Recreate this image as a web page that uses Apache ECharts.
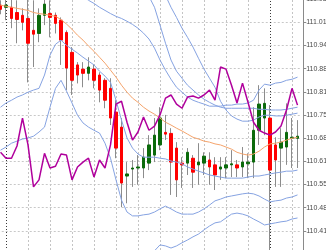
<!DOCTYPE html>
<html lang="en">
<head>
<meta charset="utf-8">
<script src="https://cdn.jsdelivr.net/npm/echarts@6/dist/echarts.min.js"></script>
</head>
<body style="margin:0;background:#fff">
<div id="chart" style="width:326px;height:250px"></div>
<script>
// 30-minute bars, two day separators at 00:00
var times = ['05 23:30',
  '06 00:00','06 00:30','06 01:00','06 01:30','06 02:00','06 02:30','06 03:00','06 03:30',
  '06 04:00','06 04:30','06 05:00','06 05:30','06 06:00','06 06:30','06 07:00','06 07:30',
  '06 08:00','06 08:30','06 09:00','06 09:30','06 10:00','06 10:30','06 11:00','06 11:30',
  '06 12:00','06 12:30','06 13:00','06 13:30','06 14:00','06 14:30','06 15:00','06 15:30',
  '06 16:00','06 16:30','06 17:00','06 17:30','06 18:00','06 18:30','06 19:00','06 19:30',
  '06 20:00','06 20:30','06 21:00','06 21:30','06 22:00','06 22:30','06 23:00','06 23:30',
  '07 00:00','07 00:30','07 01:00','07 01:30','07 02:00','07 02:30'];

var opens = [111.060,111.054,111.054,111.039,111.031,111.022,110.988,110.979,111.031,111.036,
  111.031,111.017,110.982,110.925,110.889,110.877,110.865,110.877,110.860,110.845,
  110.822,110.754,110.711,110.571,110.591,110.594,110.594,110.608,110.631,110.660,
  110.696,110.693,110.651,110.608,110.608,110.622,110.603,110.608,110.617,110.603,
  110.591,110.594,110.603,110.603,110.597,110.606,110.611,110.702,110.737,110.737,
  110.660,110.651,110.654,110.679,110.679];
var closes = [111.048,111.060,111.022,111.019,111.011,110.951,110.977,111.031,111.063,111.025,
  111.008,110.960,110.880,110.845,110.860,110.865,110.883,110.845,110.817,110.788,
  110.737,110.651,110.551,110.577,110.594,110.597,110.625,110.660,110.688,110.737,
  110.691,110.611,110.560,110.603,110.639,110.582,110.611,110.628,110.597,110.574,
  110.597,110.603,110.606,110.594,110.611,110.611,110.702,110.777,110.779,110.588,
  110.617,110.668,110.696,110.682,110.685];
var lows = [111.034,111.017,110.994,110.951,110.988,110.839,110.883,110.954,111.003,110.968,
  110.979,110.889,110.817,110.803,110.836,110.825,110.845,110.822,110.782,110.765,
  110.717,110.622,110.482,110.493,110.540,110.546,110.565,110.588,110.611,110.645,
  110.674,110.517,110.511,110.537,110.574,110.537,110.546,110.574,110.546,110.531,
  110.560,110.565,110.568,110.568,110.568,110.565,110.565,110.660,110.688,110.359,
  110.540,110.540,110.603,110.594,110.594];
var highs = [111.074,111.080,111.080,111.074,111.051,111.080,111.074,111.051,111.085,111.074,
  111.039,111.025,110.988,110.940,110.897,110.897,110.911,110.889,110.868,110.851,
  110.851,110.788,110.737,110.611,110.617,110.631,110.651,110.688,110.737,110.768,
  110.746,110.708,110.668,110.625,110.651,110.631,110.665,110.639,110.639,110.625,
  110.625,110.625,110.645,110.617,110.654,110.636,110.768,110.831,110.822,110.774,
  110.682,110.708,110.779,110.737,110.731];

// moving average (orange)
var maLine = [111.060,111.057,111.054,111.051,111.048,111.045,111.039,111.036,111.034,111.031,
  111.028,111.019,111.006,110.991,110.974,110.960,110.943,110.928,110.911,110.894,
  110.874,110.854,110.831,110.811,110.794,110.782,110.768,110.757,110.748,110.737,
  110.725,110.717,110.708,110.700,110.691,110.682,110.677,110.671,110.668,110.663,
  110.660,110.654,110.648,110.639,110.634,110.631,110.634,110.642,110.654,110.663,
  110.665,110.668,110.674,110.679,110.682];

// oscillator overlay (magenta)
var oscLine = [110.639,110.622,110.622,110.657,110.737,110.660,110.540,110.560,110.636,110.594,
  110.599,110.634,110.631,110.560,110.597,110.611,110.622,110.568,110.617,110.594,
  110.660,110.777,110.785,110.725,110.674,110.697,110.740,110.702,110.714,110.746,
  110.794,110.803,110.777,110.765,110.797,110.800,110.794,110.803,110.817,110.788,
  110.883,110.877,110.831,110.780,110.837,110.782,110.725,110.702,110.694,110.688,
  110.697,110.714,110.760,110.822,110.774];

// band lines (blue)
var bandUp1 = [111.188,111.188,111.194,111.200,111.203,111.200,111.194,111.188,111.183,111.177,
  111.171,111.160,111.145,111.125,111.103,111.085,111.074,111.065,111.054,111.045,
  111.036,111.028,111.022,111.014,111.005,110.994,110.980,110.963,110.937,110.903,
  110.874,110.848,110.825,110.811,110.797,110.788,110.782,110.777,110.771,110.771,
  110.771,110.774,110.774,110.777,110.777,110.780,110.788,110.817,110.834,110.831,
  110.837,110.839,110.845,110.848,110.854];
var bandUp2 = [111.331,111.331,111.337,111.343,111.346,111.346,111.343,111.337,111.331,111.325,
  111.320,111.314,111.303,111.291,111.280,111.268,111.257,111.245,111.231,111.217,
  111.203,111.188,111.171,111.154,111.137,111.120,111.103,111.085,111.054,111.003,
  110.951,110.903,110.871,110.851,110.831,110.817,110.803,110.791,110.782,110.774,
  110.768,110.765,110.765,110.765,110.765,110.765,110.765,110.762,110.762,110.760,
  110.760,110.760,110.762,110.765,110.768];
var bandUp3 = [111.474,111.474,111.480,111.486,111.488,111.488,111.486,111.480,111.474,111.468,
  111.463,111.457,111.446,111.434,111.423,111.411,111.400,111.388,111.374,111.360,
  111.346,111.331,111.314,111.294,111.274,111.251,111.225,111.197,111.165,111.128,
  111.088,111.054,111.025,110.994,110.968,110.940,110.908,110.877,110.851,110.825,
  110.785,110.760,110.743,110.734,110.728,110.728,110.731,110.740,110.745,110.745,
  110.743,110.743,110.745,110.748,110.751];
var bandLow1 = [110.768,110.780,110.788,110.797,110.803,110.811,110.817,110.822,110.860,110.917,
  110.948,110.960,110.945,110.934,110.923,110.911,110.900,110.889,110.871,110.857,
  110.839,110.788,110.731,110.680,110.651,110.634,110.625,110.625,110.625,110.622,
  110.620,110.614,110.611,110.606,110.597,110.591,110.585,110.580,110.574,110.571,
  110.568,110.565,110.565,110.565,110.565,110.568,110.571,110.571,110.574,110.577,
  110.580,110.582,110.585,110.585,110.588];
var bandLow2 = [110.645,110.654,110.665,110.671,110.677,110.680,110.685,110.697,110.711,110.768,
  110.822,110.845,110.814,110.780,110.745,110.723,110.711,110.702,110.694,110.665,
  110.622,110.560,110.502,110.468,110.457,110.457,110.460,110.462,110.468,110.477,
  110.485,110.477,110.468,110.462,110.462,110.462,110.468,110.477,110.488,110.500,
  110.505,110.511,110.514,110.517,110.520,110.522,110.520,110.514,110.505,110.497,
  110.500,110.502,110.508,110.511,110.517];
var bandLow3 = [110.245,110.251,110.257,110.260,110.262,110.265,110.268,110.274,110.280,110.288,
  110.297,110.302,110.297,110.288,110.280,110.274,110.268,110.262,110.257,110.251,
  110.245,110.245,110.251,110.265,110.285,110.308,110.325,110.340,110.357,110.374,
  110.371,110.365,110.371,110.380,110.388,110.397,110.405,110.417,110.428,110.437,
  110.440,110.451,110.462,110.465,110.462,110.457,110.448,110.440,110.431,110.434,
  110.437,110.440,110.442,110.448,110.451];

// price scale: labels every yStep starting one step above yMin
var yMin = 110.3479;
var yStep = 0.0663;
var yCount = 12;

var dom = document.getElementById('chart');
var myChart = echarts.init(dom, null, { renderer: 'canvas' });

var wicks = opens.map(function (o, i) { return [o, closes[i], lows[i], highs[i]]; });
var bodies = opens.map(function (o, i) {
  return [o, closes[i], Math.min(o, closes[i]), Math.max(o, closes[i])];
});

// vertical grid every 2 hours, dark separator at midnight
var vLines = [];
times.forEach(function (t, i) {
  var hm = t.slice(-5);
  if (hm.slice(3) === '00' && parseInt(hm.slice(0, 2), 10) % 2 === 0) {
    var midnight = hm === '00:00';
    vLines.push({
      xAxis: i,
      lineStyle: { color: midnight ? '#3a3a3a' : '#c4c4c4', type: midnight ? [1, 2] : [2, 2], width: 1 }
    });
  }
});

function bandSeries(data) {
  return {
    type: 'line', data: data, symbol: 'none', silent: true,
    lineStyle: { color: '#86a3e2', width: 1 }, z: 3
  };
}

var option = {
  animation: false,
  backgroundColor: '#ffffff',
  grid: { left: -2.25, right: 25.75, top: -24, bottom: -4, outerBoundsMode: 'none' },
  xAxis: {
    type: 'category', data: times, boundaryGap: true,
    axisLine: { show: false }, axisTick: { show: false },
    axisLabel: { show: false }, splitLine: { show: false }
  },
  yAxis: {
    type: 'value', position: 'right', offset: 3,
    min: yMin, max: yMin + yStep * yCount, interval: yStep,
    axisLine: { show: true, lineStyle: { color: '#8a8a8a' } },
    axisTick: { show: true, length: 3, lineStyle: { color: '#8a8a8a' } },
    axisLabel: {
      fontSize: 7, color: '#4a4a4a', margin: 3, fontFamily: 'Liberation Sans',
      showMinLabel: false, showMaxLabel: false,
      formatter: function (v) { return v.toFixed(2); }
    },
    splitLine: { show: true, lineStyle: { color: '#c8c8c8', type: [2, 2] } }
  },
  series: [
    {
      type: 'candlestick', data: wicks, barWidth: 1, silent: true,
      itemStyle: { color: '#8c8c8c', color0: '#8c8c8c', borderColor: '#8c8c8c', borderColor0: '#8c8c8c', borderWidth: 1 },
      markLine: {
        z: 1, silent: true, symbol: ['none', 'none'], label: { show: false },
        animation: false, data: vLines
      }
    },
    {
      type: 'candlestick', data: bodies, barWidth: 3, silent: true,
      itemStyle: { color: '#0b6a0b', color0: '#ff0000', borderColor: '#0b6a0b', borderColor0: '#ff0000', borderWidth: 1 }
    },
    bandSeries(bandUp1), bandSeries(bandUp2), bandSeries(bandUp3),
    bandSeries(bandLow1), bandSeries(bandLow2), bandSeries(bandLow3),
    {
      type: 'line', data: maLine, symbol: 'none', silent: true,
      lineStyle: { color: '#f5a46c', width: 1 }, z: 3
    },
    {
      type: 'line', data: oscLine, symbol: 'none', silent: true,
      lineStyle: { color: '#b0009c', width: 1.5 }, z: 4
    }
  ]
};

myChart.setOption(option);
window.addEventListener('resize', myChart.resize);
</script>
</body>
</html>
